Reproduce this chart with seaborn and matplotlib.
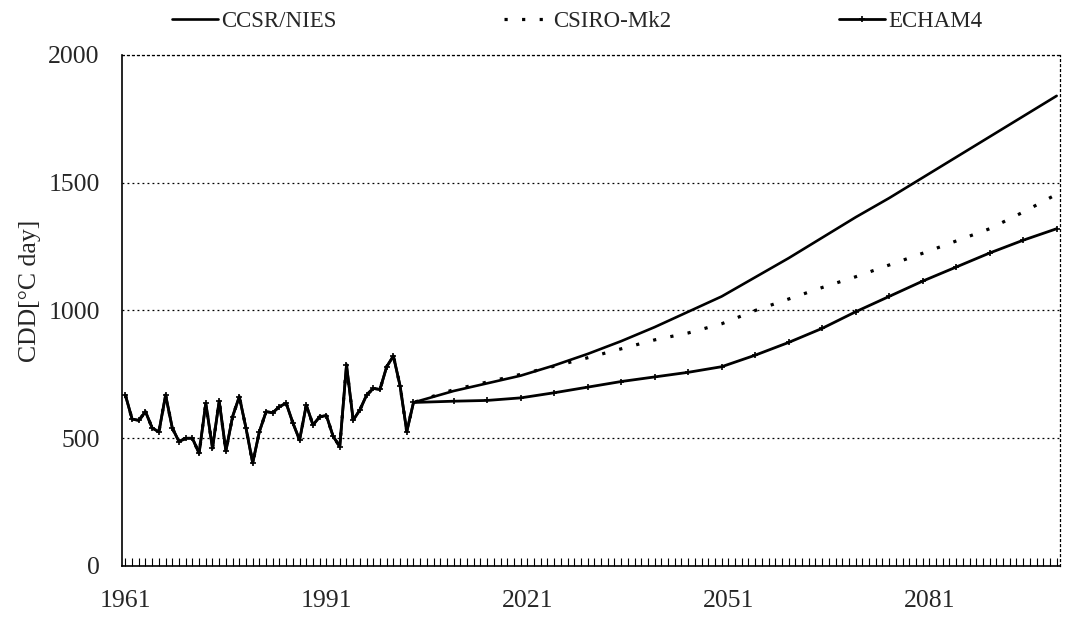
import matplotlib
matplotlib.use("Agg")
import matplotlib.pyplot as plt
from matplotlib.ticker import MultipleLocator, FixedLocator
from matplotlib.lines import Line2D
import seaborn as sns
import pandas as pd

# Observed cooling degree days, 1961-2003
obs_years = list(range(1961, 2004))
obs_cdd = [669, 575, 570, 604, 540, 525, 669, 540, 487, 500,
           500, 441, 637, 461, 646, 450, 585, 663, 540, 403,
           526, 604, 600, 624, 637, 560, 493, 630, 552, 584,
           589, 508, 467, 787, 571, 611, 669, 695, 691, 780,
           822, 705, 526]

# Scenario projections, 2004-2100
proj_years = [2004, 2010, 2015, 2020, 2025, 2030, 2035, 2040, 2045, 2050,
              2055, 2060, 2065, 2070, 2075, 2080, 2085, 2090, 2095, 2100]
ccsr_nies = [640, 685, 715, 745, 785, 830, 880, 935, 995, 1055,
             1130, 1205, 1285, 1365, 1440, 1520, 1600, 1680, 1760, 1840]
csiro_mk2 = [640, 690, 720, 750, 782, 815, 850, 885, 912, 948,
             1000, 1045, 1090, 1132, 1178, 1224, 1272, 1320, 1385, 1455]
echam4 = [640, 645, 648, 658, 678, 700, 722, 740, 758, 780,
          825, 875, 930, 995, 1055, 1115, 1170, 1225, 1275, 1320]

model_names = ["CCSR/NIES", "CSIRO-Mk2", "ECHAM4"]
x_tick_years = [1961, 1991, 2021, 2051, 2081]
y_ticks = [0, 500, 1000, 1500, 2000]

sns.set_style("white")
plt.rcParams["font.family"] = ["Liberation Serif", "DejaVu Serif"]

FS = 18.5
LEG_FS = 16.5

fig = plt.figure(figsize=(10.65, 6.2), dpi=100)
ax = fig.add_axes([0.1146, 0.0871, 0.8807, 0.8242])

# Each model series is the observed record followed by its projection
frames = []
for name, proj in zip(model_names, [ccsr_nies, csiro_mk2, echam4]):
    frames.append(pd.DataFrame({"year": obs_years + proj_years,
                                "cdd": obs_cdd + proj,
                                "model": name}))
df = pd.concat(frames, ignore_index=True)

styles = {
    "CCSR/NIES": dict(linestyle="-", linewidth=1.9),
    "CSIRO-Mk2": dict(linestyle=(0, (1.0, 4.5)), linewidth=2.3),
    "ECHAM4": dict(linestyle="-", linewidth=2.0, marker="+", markersize=5,
                   markeredgewidth=1.2, markeredgecolor="black",
                   markerfacecolor="black"),
}
for name in model_names:
    sub = df[df["model"] == name]
    sns.lineplot(data=sub, x="year", y="cdd", ax=ax, color="black",
                 errorbar=None, legend=False, **styles[name])

ax.set_xlim(1960.5, 2100.5)
ax.set_ylim(0, 2000)

ax.xaxis.set_major_locator(FixedLocator(x_tick_years))
ax.xaxis.set_minor_locator(MultipleLocator(1))
ax.yaxis.set_major_locator(FixedLocator(y_ticks))
ax.tick_params(axis="x", which="both", bottom=True, direction="in",
               length=6, width=0.8, color="black")
ax.tick_params(axis="x", which="major", labelsize=FS, pad=17)
ax.tick_params(axis="y", which="both", left=False, length=0,
               labelsize=FS, pad=16)

ax.yaxis.grid(True, linestyle=(0, (1.5, 2.5)), linewidth=0.9, color="black")
ax.xaxis.grid(False)

for side in ["left", "bottom"]:
    ax.spines[side].set_color("black")
    ax.spines[side].set_linewidth(1.2)
for side in ["top", "right"]:
    ax.spines[side].set_color("black")
    ax.spines[side].set_linewidth(0.9)
    ax.spines[side].set_linestyle((0, (1.5, 2.5)))

ax.set_xlabel("")
ax.set_ylabel("CDD[°C day]", fontsize=FS)
ax.yaxis.set_label_coords(-0.086, 0.538)

handles = [
    Line2D([], [], color="black", **styles["CCSR/NIES"]),
    Line2D([], [], color="black", **styles["CSIRO-Mk2"]),
    Line2D([], [], color="black", **styles["ECHAM4"]),
]
fig.legend(handles, model_names, loc="center", bbox_to_anchor=(0.542, 0.965),
           ncol=3, frameon=False, fontsize=LEG_FS, handlelength=2.0,
           handletextpad=0.15, columnspacing=7.3)

fig.savefig("out.png", dpi=100)
